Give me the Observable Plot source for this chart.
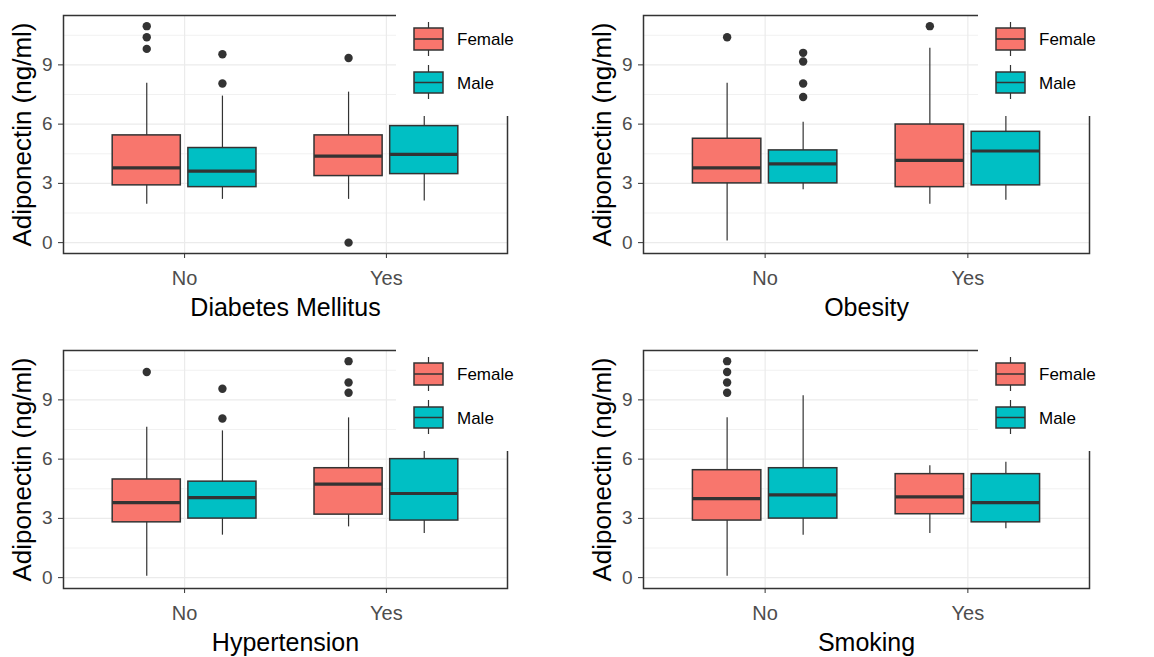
<!DOCTYPE html>
<html>
<head>
<meta charset="utf-8">
<script src="https://cdn.jsdelivr.net/npm/d3@7"></script>
<script src="https://cdn.jsdelivr.net/npm/@observablehq/plot@0.6"></script>
<style>
html, body { margin: 0; padding: 0; background: #fff; }
#wrap { position: relative; width: 1154px; height: 657px; overflow: hidden; font-family: "Liberation Sans", Arial, sans-serif; }
.panel { position: absolute; }
.legend { position: absolute; background: #fff; }
.legend svg { display: block; }
</style>
</head>
<body>
<div id="wrap"></div>
<script>
// ---- data ----
const factors = ["Diabetes Mellitus", "Obesity", "Hypertension", "Smoking"];
const categories = ["No", "Yes"];
const sexes = ["Female", "Male"];
// order inside each factor: No-Female, No-Male, Yes-Female, Yes-Male
const lowerWhisker  = [[1.94, 2.19, 2.19, 2.11], [0.08, 2.68, 1.94, 2.14], [0.07, 2.15, 2.57, 2.23], [0.07, 2.15, 2.23, 2.48]];
const lowerQuartile = [[2.90, 2.81, 3.37, 3.47], [3.00, 3.00, 2.81, 2.90], [2.80, 2.99, 3.19, 2.89], [2.89, 2.99, 3.21, 2.80]];
const medians       = [[3.79, 3.62, 4.38, 4.47], [3.79, 3.99, 4.16, 4.64], [3.80, 4.05, 4.73, 4.26], [4.00, 4.19, 4.09, 3.80]];
const upperQuartile = [[5.43, 4.79, 5.43, 5.90], [5.26, 4.67, 5.98, 5.61], [4.97, 4.86, 5.54, 6.00], [5.44, 5.54, 5.24, 5.24]];
const upperWhisker  = [[8.07, 7.42, 7.62, 6.40], [8.07, 6.10, 9.84, 6.39], [7.62, 7.43, 8.09, 6.40], [8.09, 9.21, 5.66, 5.84]];
const outliers = [
  [[10.96, 10.40, 9.81], [9.54, 8.06], [9.35, 0.0], []],
  [[10.40], [9.61, 9.17, 8.06, 7.37], [10.96], []],
  [[10.41], [9.56, 8.06], [10.96, 9.88, 9.36], []],
  [[10.96, 10.41, 9.88, 9.36], [], [], []]
];
const yTicks = [0, 3, 6, 9];
const yMinor = [1.5, 4.5, 7.5, 10.5];
const yLabel = "Adiponectin (ng/ml)";
const sexColors = ["#F8766D", "#00BFC4"];

// ---- layout ----
const layout = [
  {left: 0,   top: 0,   width: 577, mr: 70},
  {left: 580, top: 0,   width: 574, mr: 65},
  {left: 0,   top: 335, width: 577, mr: 70},
  {left: 580, top: 335, width: 574, mr: 65}
];
const H = 325, ML = 63, MT = 15, MB = 72;
const dodge = 0.1875, half = 0.16875;
const font = '"Liberation Sans", Arial, sans-serif';

const wrap = document.getElementById("wrap");

factors.forEach((factor, f) => {
  const boxes = [];
  const pts = [];
  categories.forEach((cat, ci) => {
    sexes.forEach((sex, si) => {
      const k = ci * 2 + si;
      const pos = ci + 1 + (si === 0 ? -dodge : dodge);
      boxes.push({cat, sex, pos, lo: lowerWhisker[f][k], q1: lowerQuartile[f][k], med: medians[f][k], q3: upperQuartile[f][k], hi: upperWhisker[f][k]});
      outliers[f][k].forEach(v => pts.push({cat, sex, pos, v}));
    });
  });
  const L = layout[f];
  const chart = Plot.plot({
    width: L.width,
    height: H,
    marginLeft: ML,
    marginRight: L.mr,
    marginTop: MT,
    marginBottom: MB,
    style: {fontFamily: font, background: "white", overflow: "visible"},
    x: {type: "linear", domain: [0.4, 2.6]},
    y: {domain: [-0.55, 11.5]},
    color: {domain: sexes, range: sexColors},
    marks: [
      Plot.gridY(yMinor, {stroke: "#EBEBEB", strokeOpacity: 1, strokeWidth: 0.7}),
      Plot.gridY(yTicks, {stroke: "#EBEBEB", strokeOpacity: 1, strokeWidth: 1.2}),
      Plot.gridX([1, 2], {stroke: "#EBEBEB", strokeOpacity: 1, strokeWidth: 1.2}),
      Plot.ruleX(boxes, {x: "pos", y1: "lo", y2: "hi", stroke: "#333333", strokeWidth: 1.2}),
      Plot.rect(boxes, {x1: d => d.pos - half, x2: d => d.pos + half, y1: "q1", y2: "q3", fill: "sex", stroke: "#333333", strokeWidth: 1.5}),
      Plot.ruleY(boxes, {y: "med", x1: d => d.pos - half, x2: d => d.pos + half, stroke: "#333333", strokeWidth: 3.2}),
      Plot.dot(pts, {x: "pos", y: "v", r: 4.2, fill: "#333333", stroke: "none"}),
      Plot.frame({stroke: "#333333", strokeWidth: 1.5}),
      Plot.axisY({ticks: yTicks, tickSize: 5, tickPadding: 6, fontSize: 19, stroke: "#333333", fill: "#4D4D4D", label: null}),
      Plot.axisY({ticks: [], tickSize: 0, fontSize: 26, fill: "#000", label: yLabel, labelAnchor: "center", labelOffset: 51, labelArrow: "none"}),
      Plot.axisX({ticks: [1, 2], tickFormat: d => categories[d - 1], tickSize: 5, tickPadding: 12, fontSize: 20, stroke: "#333333", fill: "#4D4D4D", label: null}),
      Plot.axisX({ticks: [], tickSize: 0, fontSize: 25, fill: "#000", label: factor, labelAnchor: "center", labelOffset: 62, labelArrow: "none"})
    ]
  });
  const div = document.createElement("div");
  div.className = "panel";
  div.style.left = L.left + "px";
  div.style.top = L.top + "px";
  div.appendChild(chart);
  wrap.appendChild(div);

  // legend overlay (top-right, white background like the reference)
  const lgLeft = L.width - L.mr - 111;
  const lg = document.createElement("div");
  lg.className = "legend";
  lg.style.left = (L.left + lgLeft) + "px";
  lg.style.top = L.top + "px";
  lg.style.width = (L.width - lgLeft) + "px";
  lg.style.height = "116px";
  const keyX = 18, keyW = 29;
  const keys = [{y0: 28, y1: 50, t: 22, b: 56}, {y0: 72, y1: 93, t: 65, b: 99}];
  let s = `<svg width="${L.width - lgLeft}" height="116" xmlns="http://www.w3.org/2000/svg">`;
  sexes.forEach((sex, i) => {
    const k = keys[i];
    const cx = keyX + keyW / 2, my = (k.y0 + k.y1) / 2;
    s += `<line x1="${cx}" x2="${cx}" y1="${k.t}" y2="${k.b}" stroke="#333333" stroke-width="1.2"/>`;
    s += `<rect x="${keyX}" y="${k.y0}" width="${keyW}" height="${k.y1 - k.y0}" fill="${sexColors[i]}" stroke="#333333" stroke-width="1.5"/>`;
    s += `<line x1="${keyX}" x2="${keyX + keyW}" y1="${my}" y2="${my}" stroke="#333333" stroke-width="1.5"/>`;
    s += `<text x="61" y="${my + 6}" font-family='${font}' font-size="17" fill="#000">${sex}</text>`;
  });
  s += `</svg>`;
  lg.innerHTML = s;
  wrap.appendChild(lg);
});
</script>
</body>
</html>
